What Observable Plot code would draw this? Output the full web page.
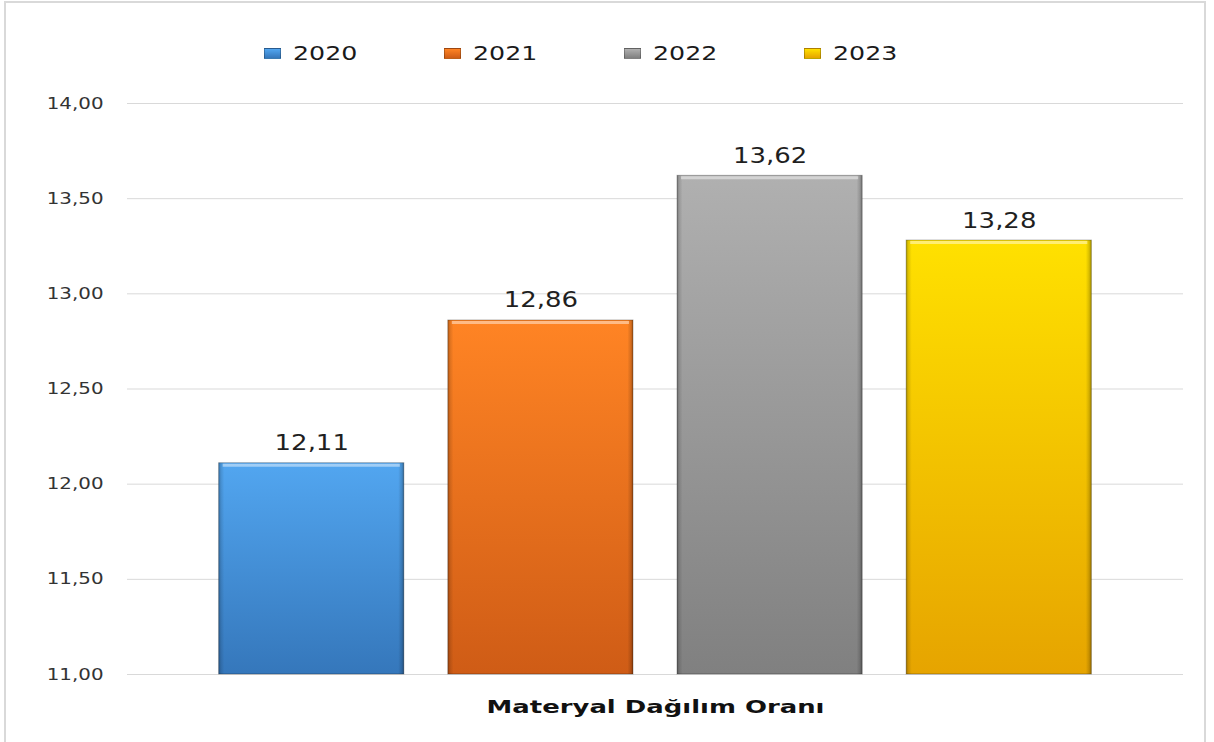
<!DOCTYPE html>
<html>
<head>
<meta charset="utf-8">
<script src="https://cdn.jsdelivr.net/npm/d3@7"></script>
<script src="https://cdn.jsdelivr.net/npm/@observablehq/plot@0.6"></script>
<style>
  html, body { margin: 0; padding: 0; background: #fff; overflow: hidden; }
  body { width: 1214px; height: 742px; position: relative; font-family: "DejaVu Sans", sans-serif; }
  #frame { position: absolute; left: 4px; top: 1px; width: 1198px; height: 800px; border: 2px solid #d9d9d9; pointer-events: none; }
  #legend { position: relative; height: 80px; }
  .item { position: absolute; top: 0; height: 80px; }
  .sw { position: absolute; top: 48px; left: 0; width: 17px; height: 11px; box-sizing: border-box; }
  .lt { position: absolute; left: 29px; top: 41px; font-size: 19px; line-height: 24px; color: #1a1a1a; transform: scaleX(1.33); transform-origin: left center; white-space: nowrap; }
</style>
</head>
<body>
<div id="legend"></div>
<div id="chart"></div>
<div id="frame"></div>
<script>
// ---- data ----
const category = "Materyal Dağılım Oranı";
const years = ["2020", "2021", "2022", "2023"];
const values = [12.11, 12.86, 13.62, 13.28];
const yMin = 11;
const yMax = 14;
const yTicks = [11, 11.5, 12, 12.5, 13, 13.5, 14];

// ---- styles ----
const topColors = ["#52a6f0", "#ff8424", "#b0b0b0", "#ffe100"];
const bottomColors = ["#3577bb", "#cf5c16", "#808080", "#e6a400"];
const gradIds = years.map((y, i) => `grad${i}`);

const data = years.map((y, i) => ({category, year: y, value: values[i]}));
const fmt = v => v.toFixed(2).replace(".", ",");

// legend (HTML, above the SVG)
const legend = document.getElementById("legend");
years.forEach((y, i) => {
  const it = document.createElement("div");
  it.className = "item";
  it.style.left = (264 + i * 180) + "px";
  const sw = document.createElement("div");
  sw.className = "sw";
  sw.style.background = `linear-gradient(to bottom, ${topColors[i]}, ${bottomColors[i]})`;
  sw.style.border = "1px solid rgba(0,0,0,0.25)";
  const lt = document.createElement("div");
  lt.className = "lt";
  lt.textContent = y;
  it.appendChild(sw); it.appendChild(lt);
  legend.appendChild(it);
});

const svg = Plot.plot({
  width: 1214,
  height: 662,
  marginTop: 23,
  marginBottom: 68,
  marginLeft: 127,
  marginRight: 31,
  style: {fontFamily: "DejaVu Sans, sans-serif", background: "white", overflow: "visible"},
  fx: {padding: 0, label: null},
  x: {domain: years, paddingInner: 0.192, paddingOuter: 0.4, round: false, axis: null},
  y: {domain: [yMin, yMax], label: null},
  color: {domain: years, range: gradIds.map(id => `url(#${id})`)},
  marks: [
    Plot.gridY(yTicks, {stroke: "#d9d9d9", strokeOpacity: 1, strokeWidth: 1}),
    Plot.barY(data, {fx: "category", x: "year", y1: () => yMin, y2: "value", fill: "year"}),
    Plot.barY(data, {fx: "category", x: "year", y1: () => yMin, y2: "value", fill: "url(#side)", stroke: "rgba(0,0,0,0.28)", strokeWidth: 1}),
    Plot.tickY(data, {fx: "category", x: "year", y: "value", stroke: "white", strokeOpacity: 0.45, strokeWidth: 3, dy: 2, insetLeft: 4, insetRight: 4}),
    Plot.text(data, {fx: "category", x: "year", y: "value", text: d => fmt(d.value), fontSize: 22, fill: "#1f1f1f", dy: -13, lineAnchor: "bottom"}),
    Plot.axisY(yTicks, {tickSize: 0, tickPadding: 24, tickFormat: fmt, fontSize: 16, fill: "#333", label: null}),
    Plot.axisFx({anchor: "bottom", tickSize: 0, tickPadding: 25, fontSize: 18.5, fontWeight: "bold", fill: "#111", label: null})
  ]
});

// gradient definitions
const defs = d3.select(svg).insert("defs", ":first-child");
years.forEach((y, i) => {
  const g = defs.append("linearGradient").attr("id", gradIds[i])
    .attr("x1", 0).attr("y1", 0).attr("x2", 0).attr("y2", 1);
  g.append("stop").attr("offset", "0%").attr("stop-color", topColors[i]);
  g.append("stop").attr("offset", "100%").attr("stop-color", bottomColors[i]);
});
const side = defs.append("linearGradient").attr("id", "side")
  .attr("x1", 0).attr("y1", 0).attr("x2", 1).attr("y2", 0);
[[0, 0.30], [0.012, 0.12], [0.03, 0], [0.97, 0], [0.988, 0.15], [1, 0.35]].forEach(([o, a]) => {
  side.append("stop").attr("offset", o).attr("stop-color", "black").attr("stop-opacity", a);
});

document.getElementById("chart").appendChild(svg);

// horizontal stretch of text about its anchor (right edge for y ticks, centre otherwise)
const tickStrings = yTicks.map(fmt);
svg.querySelectorAll("text").forEach(t => {
  const s = t.textContent;
  const b = t.getBBox();
  let k, ax;
  if (s === category) { k = 1.4; ax = b.x + b.width / 2; }
  else if (tickStrings.includes(s) && b.x + b.width < 130) { k = 1.24; ax = b.x + b.width; }
  else { k = 1.18; ax = b.x + b.width / 2; }
  const tr = t.getAttribute("transform") || "";
  t.setAttribute("transform", `${tr} translate(${ax},0) scale(${k},1) translate(${-ax},0)`);
});
</script>
</body>
</html>
